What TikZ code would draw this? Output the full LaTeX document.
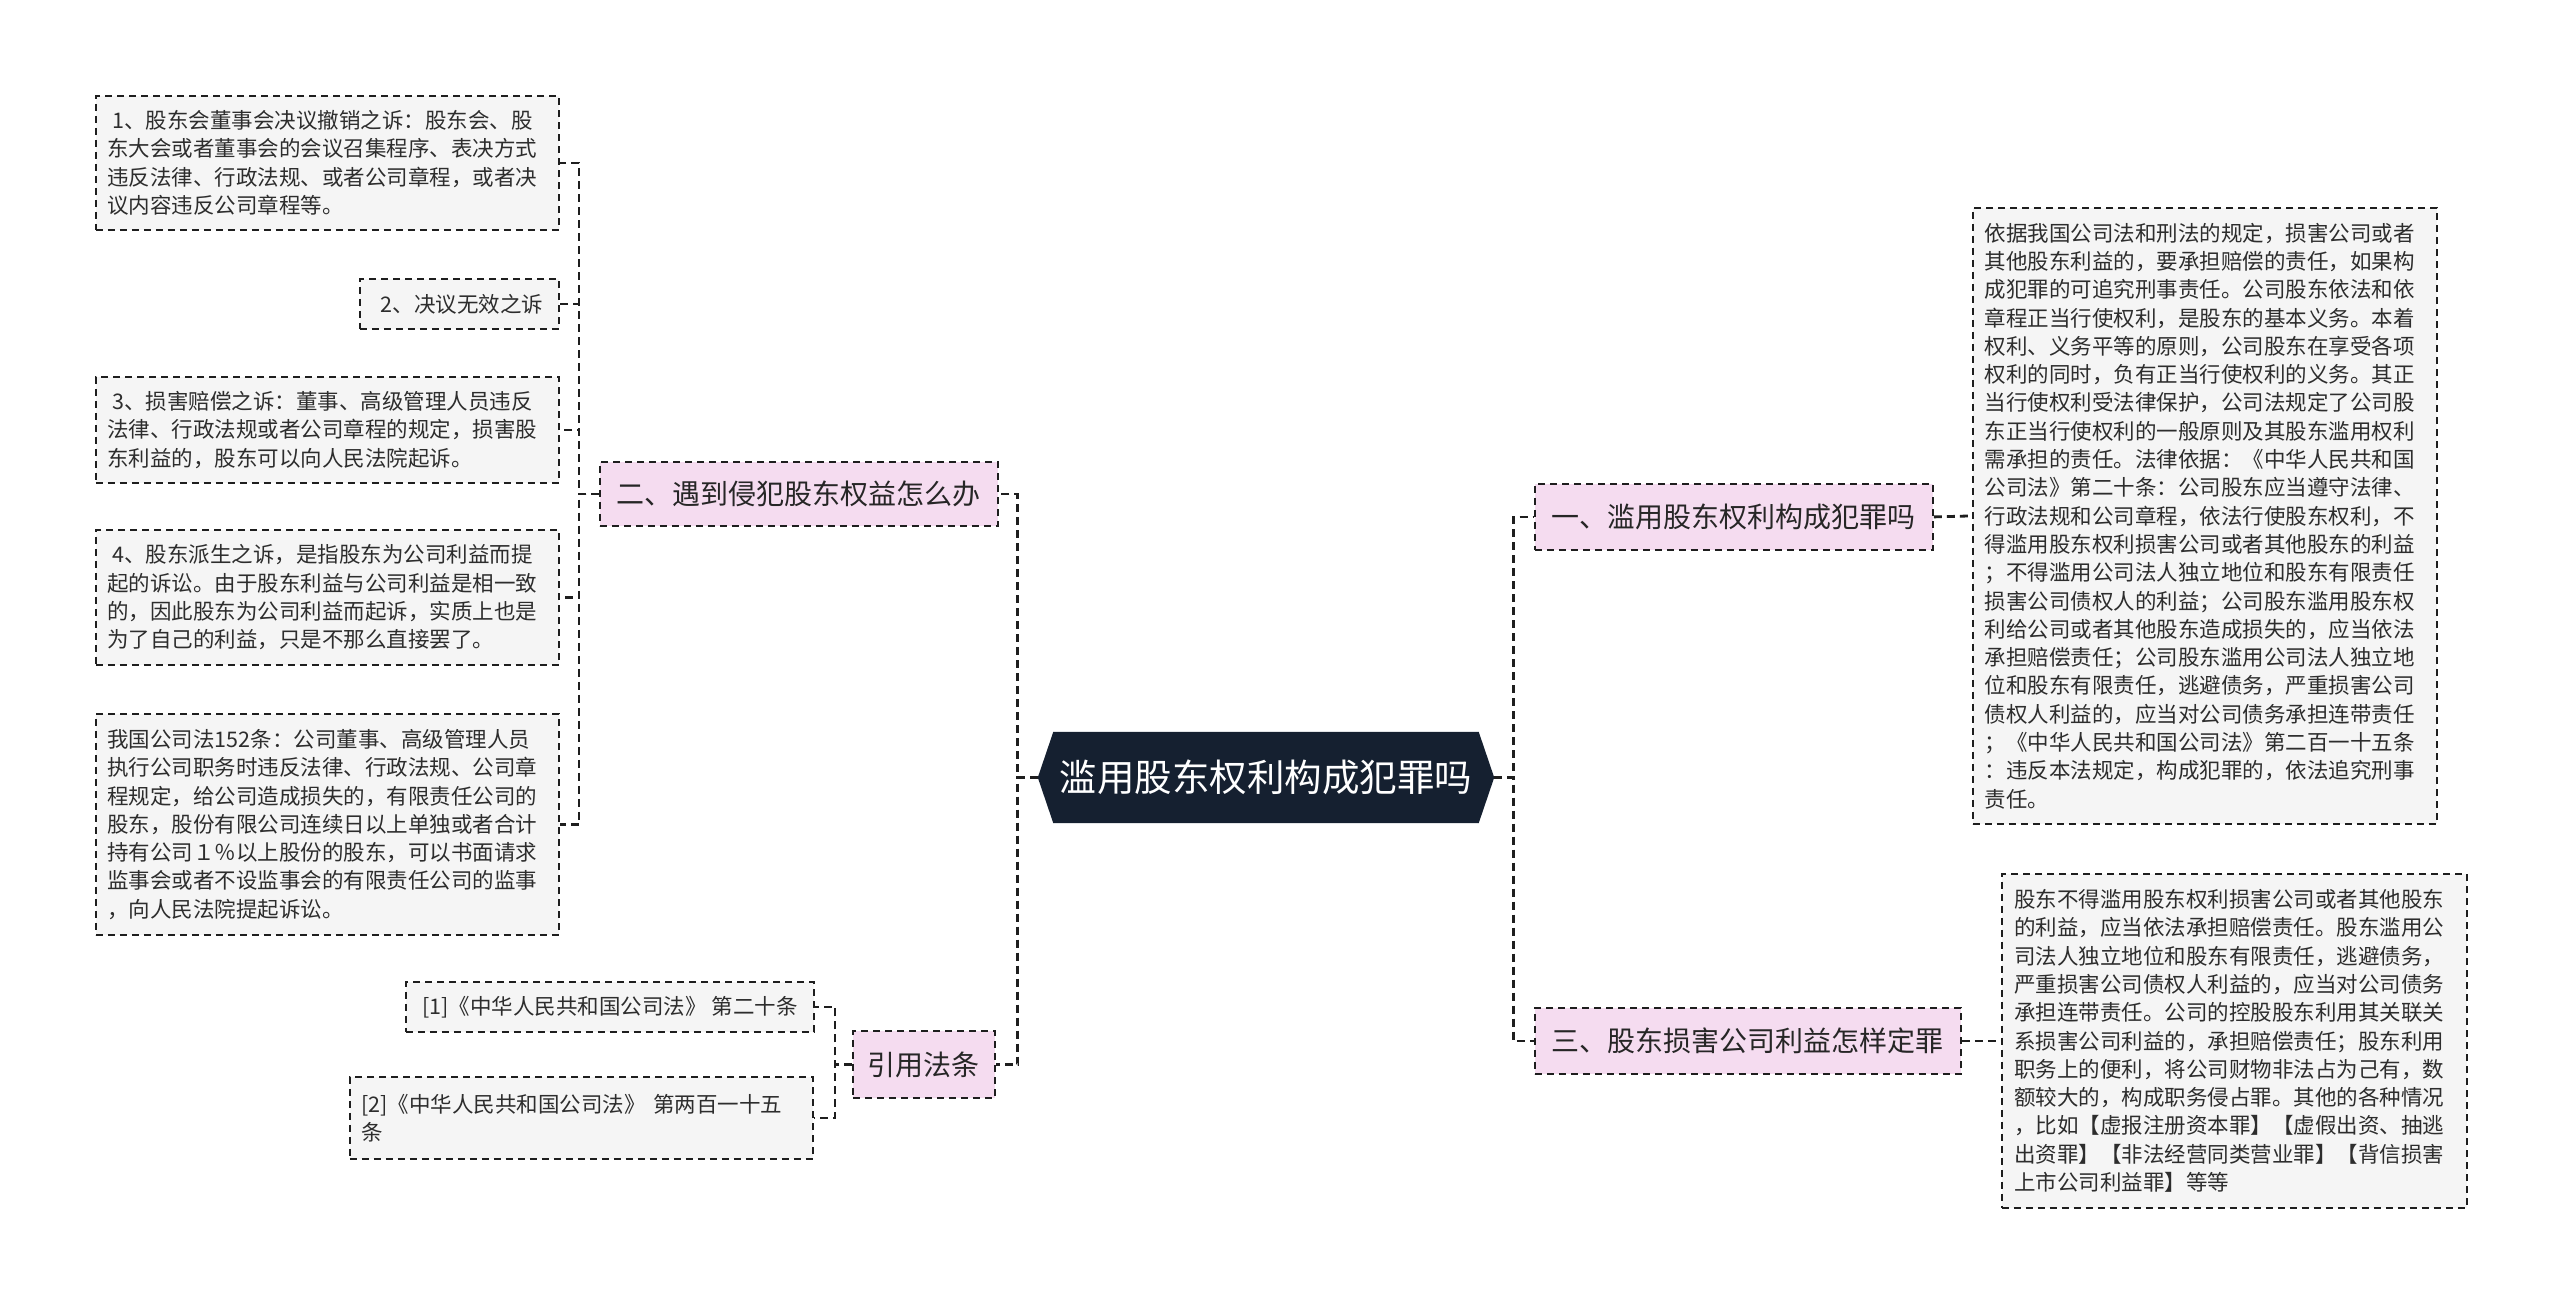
\documentclass[tikz,border=0pt]{standalone}
\usepackage{fontspec}
\newfontfamily\cjk{Noto Sans CJK SC}
\usetikzlibrary{backgrounds}
\definecolor{rootfill}{RGB}{21,32,48}
\definecolor{pinkfill}{RGB}{245,220,240}
\definecolor{leaffill}{RGB}{245,245,245}
\definecolor{linecol}{RGB}{30,30,30}
\definecolor{txtcol}{RGB}{45,45,45}
\begin{document}
\begin{tikzpicture}[x=1pt,y=-1pt,
  leaf/.style={draw=linecol, line width=1.8pt, dash pattern=on 7pt off 5pt, fill=leaffill, text=txtcol,
    font=\cjk\fontsize{21.5}{28.3}\selectfont, align=left, inner xsep=11.5pt, inner ysep=0pt, anchor=north west},
  branch/.style={draw=linecol, line width=1.8pt, dash pattern=on 7pt off 5pt, fill=pinkfill, text=black!85,
    font=\cjk\fontsize{28}{34}\selectfont, inner sep=0pt, anchor=north west},
  rootnode/.style={text=white, font=\cjk\fontsize{37.5}{44}\selectfont, inner sep=0pt,
    minimum width=456pt, minimum height=91pt},
  conn/.style={draw=linecol, line width=2.8pt, dash pattern=on 8pt off 5pt}]

\useasboundingbox (0,0) rectangle (2560,1302);

% root
\node[rootnode] (root) at (1266,777.5) {滥用股东权利构成犯罪吗};
\begin{pgfonlayer}{background}
  \fill[white] (0,0) rectangle (2560,1302);
  \fill[rootfill] ([xshift=15.5pt]root.north west) -- ([xshift=-15.5pt]root.north east) -- (root.east)
    -- ([xshift=-15.5pt]root.south east) -- ([xshift=15.5pt]root.south west) -- (root.west) -- cycle;
\end{pgfonlayer}

% branches
\node[branch, minimum width=398pt, minimum height=64pt] (n2) at (599,461) {二、遇到侵犯股东权益怎么办};
\node[branch, minimum width=142pt, minimum height=67pt] (n4) at (852,1030) {引用法条};
\node[branch, minimum width=398pt, minimum height=66pt] (n1) at (1534,483) {一、滥用股东权利构成犯罪吗};
\node[branch, minimum width=426pt, minimum height=66pt] (n3) at (1534,1007) {三、股东损害公司利益怎样定罪};

% left leaves
\node[leaf, text width=440pt, minimum height=134pt] (l1) at (95,95) {\hspace*{5pt}1、股东会董事会决议撤销之诉：股东会、股\\东大会或者董事会的会议召集程序、表决方式\\违反法律、行政法规、或者公司章程，或者决\\议内容违反公司章程等。};
\node[leaf, minimum width=199pt, minimum height=50pt] (l2) at (359,278) {\hspace*{5pt}2、决议无效之诉};
\node[leaf, text width=440pt, minimum height=106pt] (l3) at (95,376) {\hspace*{5pt}3、损害赔偿之诉：董事、高级管理人员违反\\法律、行政法规或者公司章程的规定，损害股\\东利益的，股东可以向人民法院起诉。};
\node[leaf, text width=440pt, minimum height=135pt] (l4) at (95,529) {\hspace*{5pt}4、股东派生之诉，是指股东为公司利益而提\\起的诉讼。由于股东利益与公司利益是相一致\\的，因此股东为公司利益而起诉，实质上也是\\为了自己的利益，只是不那么直接罢了。};
\node[leaf, text width=440pt, minimum height=221pt] (l5) at (95,713) {我国公司法152条：公司董事、高级管理人员\\执行公司职务时违反法律、行政法规、公司章\\程规定，给公司造成损失的，有限责任公司的\\股东，股份有限公司连续日以上单独或者合计\\持有公司１％以上股份的股东，可以书面请求\\监事会或者不设监事会的有限责任公司的监事\\，向人民法院提起诉讼。};

% citations
\node[leaf, minimum width=408pt, minimum height=50pt] (c1) at (405,981) {[1]《中华人民共和国公司法》 第二十条};
\node[leaf, text width=440pt, minimum height=82pt] (c2) at (349,1076) {[2]《中华人民共和国公司法》 第两百一十五\\条};

% right leaves
\node[leaf, text width=440pt, inner xsep=12pt, minimum height=616pt] (r1) at (1972,207) {依据我国公司法和刑法的规定，损害公司或者\\其他股东利益的，要承担赔偿的责任，如果构\\成犯罪的可追究刑事责任。公司股东依法和依\\章程正当行使权利，是股东的基本义务。本着\\权利、义务平等的原则，公司股东在享受各项\\权利的同时，负有正当行使权利的义务。其正\\当行使权利受法律保护，公司法规定了公司股\\东正当行使权利的一般原则及其股东滥用权利\\需承担的责任。法律依据：《中华人民共和国\\公司法》第二十条：公司股东应当遵守法律、\\行政法规和公司章程，依法行使股东权利，不\\得滥用股东权利损害公司或者其他股东的利益\\；不得滥用公司法人独立地位和股东有限责任\\损害公司债权人的利益；公司股东滥用股东权\\利给公司或者其他股东造成损失的，应当依法\\承担赔偿责任；公司股东滥用公司法人独立地\\位和股东有限责任，逃避债务，严重损害公司\\债权人利益的，应当对公司债务承担连带责任\\；《中华人民共和国公司法》第二百一十五条\\：违反本法规定，构成犯罪的，依法追究刑事\\责任。};
\node[leaf, text width=440pt, inner xsep=12.5pt, minimum height=334pt] (r2) at (2001,873) {股东不得滥用股东权利损害公司或者其他股东\\的利益，应当依法承担赔偿责任。股东滥用公\\司法人独立地位和股东有限责任，逃避债务，\\严重损害公司债权人利益的，应当对公司债务\\承担连带责任。公司的控股股东利用其关联关\\系损害公司利益的，承担赔偿责任；股东利用\\职务上的便利，将公司财物非法占为己有，数\\额较大的，构成职务侵占罪。其他的各种情况\\，比如【虚报注册资本罪】【虚假出资、抽逃\\出资罪】【非法经营同类营业罪】【背信损害\\上市公司利益罪】等等};

% connectors
\draw[conn] (root.west) -- ++(-20,0) |- (n2.east);
\draw[conn] (root.west) -- ++(-20,0) |- (n4.east);
\draw[conn] (root.east) -- ++(19,0) |- (n1.west);
\draw[conn] (root.east) -- ++(19,0) |- (n3.west);
\foreach \leafname in {l1,l2,l3,l4,l5}
  \draw[conn] (n2.west) -- ++(-20,0) |- (\leafname.east);
\draw[conn] (n4.west) -- ++(-17,0) |- (c1.east);
\draw[conn] (n4.west) -- ++(-17,0) |- (c2.east);
\draw[conn] (n1.east) -- (r1.west);
\draw[conn] (n3.east) -- (r2.west);
\end{tikzpicture}
\end{document}
